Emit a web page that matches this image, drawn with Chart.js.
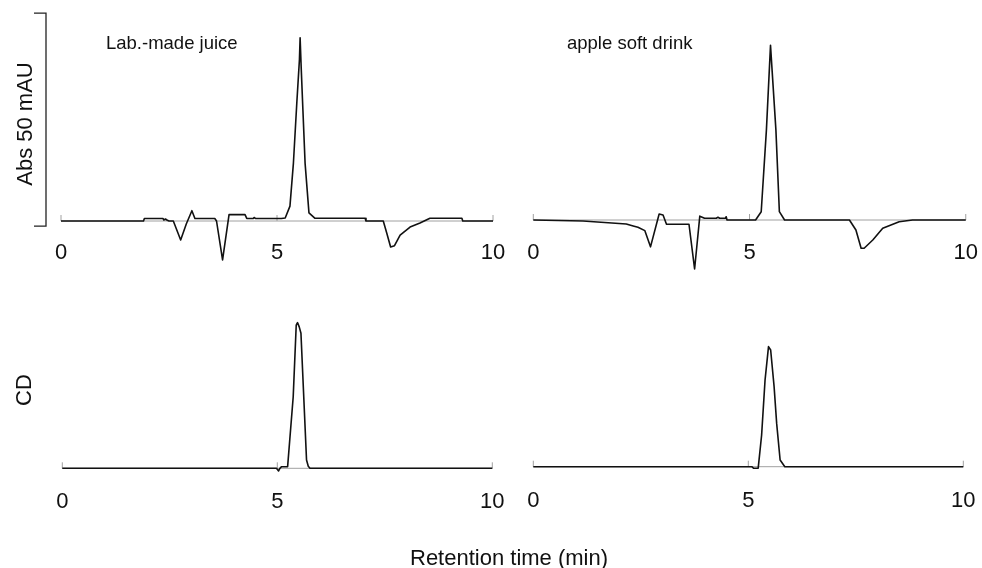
<!DOCTYPE html>
<html lang="en">
  <head>
    <meta charset="UTF-8" />
    <title>Chromatograms</title>
    <script src="https://cdn.jsdelivr.net/npm/chart.js@4.4.0/dist/chart.umd.min.js"></script>
    <style>
      body {
        margin: 0;
        background: #fff;
        font-family: "Liberation Sans", Arial, sans-serif;
        color: #111;
      }
      #wrap {
        position: relative;
        width: 982px;
        height: 568px;
        overflow: hidden;
      }
      canvas {
        position: absolute;
        left: 0;
        top: 0;
      }
      .lbl {
        position: absolute;
        white-space: nowrap;
        line-height: 1;
      }
      .rot {
        transform: translate(-50%, -50%) rotate(-90deg);
      }
    </style>
  </head>
  <body>
    <div id="wrap">
      <canvas id="absJuice" width="982" height="568"></canvas>
      <canvas id="absDrink" width="982" height="568"></canvas>
      <canvas id="cdJuice" width="982" height="568"></canvas>
      <canvas id="cdDrink" width="982" height="568"></canvas>
      <div class="lbl" style="left: 106px; top: 34px; font-size: 18.5px">Lab.-made juice</div>
      <div class="lbl" style="left: 567px; top: 34px; font-size: 18.5px">apple soft drink</div>
      <div class="lbl rot" style="left: 24.7px; top: 124px; font-size: 22px">Abs 50 mAU</div>
      <div class="lbl rot" style="left: 24px; top: 390px; font-size: 22px">CD</div>
      <div class="lbl" style="left: 410px; top: 547px; font-size: 22px">Retention time (min)</div>
    </div>

    <script>
      // retention time axis (min)
      const xTicks = [0, 5, 10];

      // Abs trace, lab.-made juice (mAU)
      const juiceAbsTime = [0, 1.91, 1.93, 2.36, 2.38, 2.42, 2.45, 2.5, 2.6, 2.77, 2.9, 3.03, 3.1, 3.56, 3.6, 3.74, 3.89, 4.26, 4.3, 4.45, 4.47, 4.5, 5.1, 5.19, 5.3, 5.38, 5.46, 5.52, 5.535, 5.56, 5.6, 5.65, 5.74, 5.88, 7.04, 7.06, 7.46, 7.54, 7.63, 7.72, 7.85, 8.08, 8.31, 8.54, 9.28, 9.3, 10];
      const juiceAbs = [0, 0, 0.6, 0.6, 0.23, 0.47, 0.23, 0, 0, -4.46, -0.7, 2.42, 0.6, 0.6, 0, -9.15, 1.5, 1.5, 0.6, 0.6, 0.82, 0.6, 0.6, 0.7, 3.5, 13.6, 28, 38, 43, 36, 26, 13.6, 1.9, 0.63, 0.63, 0, 0, -2.82, -6.1, -5.8, -3.29, -1.41, -0.47, 0.63, 0.63, 0, 0];

      // Abs trace, apple soft drink (mAU)
      const drinkAbsTime = [0, 1.15, 2.15, 2.31, 2.42, 2.58, 2.71, 2.91, 3.0, 3.08, 3.6, 3.73, 3.85, 3.96, 4.23, 4.27, 4.31, 4.44, 4.46, 4.48, 5.14, 5.27, 5.39, 5.485, 5.61, 5.69, 5.81, 7.31, 7.46, 7.58, 7.65, 7.85, 8.08, 8.46, 8.77, 10];
      const drinkAbs = [0, -0.23, -0.94, -1.4, -1.7, -2.5, -6.3, 1.4, 1.17, -1.0, -1.0, -11.5, 0.9, 0.4, 0.4, 0.63, 0.4, 0.4, 0.77, 0, 0, 1.95, 21.1, 41.0, 21.1, 1.95, 0, 0, -2.35, -6.64, -6.64, -4.69, -1.95, -0.4, 0, 0];

      // CD trace, lab.-made juice
      const juiceCdTime = [0, 4.98, 5.03, 5.06, 5.1, 5.24, 5.37, 5.44, 5.47, 5.51, 5.55, 5.68, 5.72, 5.76, 10];
      const juiceCd = [0, 0, -0.63, 0, 0.38, 0.38, 16.8, 33.6, 34.2, 33.2, 31.7, 1.95, 0.47, 0, 0];

      // CD trace, apple soft drink
      const drinkCdTime = [0, 5.08, 5.12, 5.23, 5.31, 5.39, 5.47, 5.52, 5.6, 5.66, 5.74, 5.85, 10];
      const drinkCd = [0, 0, -0.35, -0.35, 7.44, 20.4, 28.2, 27.4, 18.8, 10.1, 1.57, 0, 0];

      // scale bar: 50 mAU
      const scaleBarMAU = 50;
      const scaleBarBase = -1.2;

      const W = 982, H = 568;
      const PX_PER_UNIT = 4.26;
      const TICK_FONT = 22, TICK_PAD = 4;

      const panels = [
        { id: "absJuice", t: juiceAbsTime, v: juiceAbs, left: 61, right: 493, base: 221, labelY: 252.5, bar: true },
        { id: "absDrink", t: drinkAbsTime, v: drinkAbs, left: 533.3, right: 966.7, base: 220, labelY: 252.5 },
        { id: "cdJuice", t: juiceCdTime, v: juiceCd, left: 62.3, right: 492.3, base: 468.3, labelY: 501.5 },
        { id: "cdDrink", t: drinkCdTime, v: drinkCd, left: 533.3, right: 963.3, base: 466.7, labelY: 500.5 },
      ];

      const baselinePlugin = {
        id: "baseline",
        beforeDatasetsDraw(chart) {
          const { ctx, scales: { x, y } } = chart;
          const y0 = y.getPixelForValue(0);
          ctx.save();
          ctx.strokeStyle = "#a0a0a0";
          ctx.lineWidth = 1;
          ctx.beginPath();
          ctx.moveTo(x.getPixelForValue(xTicks[0]), y0);
          ctx.lineTo(x.getPixelForValue(xTicks[xTicks.length - 1]), y0);
          xTicks.forEach((t) => {
            const px = x.getPixelForValue(t);
            ctx.moveTo(px, y0);
            ctx.lineTo(px, y0 - 6);
          });
          ctx.stroke();
          ctx.restore();
        },
      };

      const scaleBarPlugin = {
        id: "scaleBar",
        afterDatasetsDraw(chart) {
          const { ctx, chartArea, scales: { y } } = chart;
          const yb = y.getPixelForValue(scaleBarBase);
          const yt = y.getPixelForValue(scaleBarBase + scaleBarMAU);
          const xb = chartArea.left - 15;
          ctx.save();
          ctx.strokeStyle = "#222";
          ctx.lineWidth = 1.3;
          ctx.beginPath();
          ctx.moveTo(xb - 12, yt);
          ctx.lineTo(xb, yt);
          ctx.lineTo(xb, yb);
          ctx.lineTo(xb - 12, yb);
          ctx.stroke();
          ctx.restore();
        },
      };

      panels.forEach((p) => {
        const top = p.base - 205;
        const lineH = TICK_FONT * 1.2;
        const bottom = p.labelY - TICK_PAD - lineH / 2;
        const axisH = lineH + TICK_PAD * 2;
        const points = p.t.map((t, i) => ({ x: t, y: p.v[i] }));

        new Chart(document.getElementById(p.id).getContext("2d"), {
          type: "line",
          data: {
            datasets: [
              {
                data: points,
                borderColor: "#111",
                borderWidth: 1.6,
                borderJoinStyle: "round",
                pointRadius: 0,
                tension: 0,
                clip: false,
              },
            ],
          },
          options: {
            responsive: false,
            animation: false,
            devicePixelRatio: 1,
            layout: {
              padding: { left: p.left, right: W - p.right, top: top, bottom: H - bottom - axisH },
            },
            plugins: { legend: { display: false }, tooltip: { enabled: false } },
            scales: {
              x: {
                type: "linear",
                min: 0,
                max: 10,
                grid: { display: false, drawTicks: false },
                border: { display: false },
                ticks: {
                  stepSize: 5,
                  padding: TICK_PAD,
                  maxRotation: 0,
                  color: "#111",
                  font: { family: "'Liberation Sans', Arial, sans-serif", size: TICK_FONT },
                },
              },
              y: {
                display: false,
                min: -(bottom - p.base) / PX_PER_UNIT,
                max: (p.base - top) / PX_PER_UNIT,
              },
            },
          },
          plugins: p.bar ? [baselinePlugin, scaleBarPlugin] : [baselinePlugin],
        });
      });
    </script>
  </body>
</html>
